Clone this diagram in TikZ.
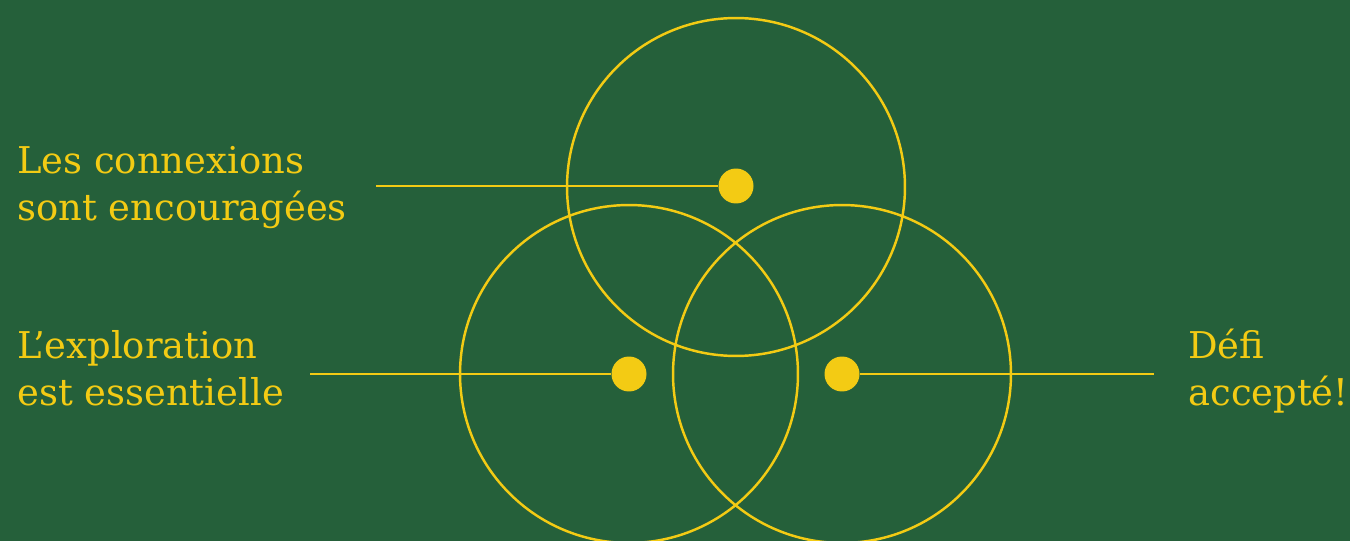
\documentclass[tikz,border=0pt]{standalone}
\usepackage{fontspec}
\setmainfont{DejaVu Serif}
\usetikzlibrary{positioning}
\definecolor{bggreen}{HTML}{25603A}
\definecolor{ideayellow}{HTML}{F3CB14}

\begin{document}
\begin{tikzpicture}[x=0.02cm, y=-0.02cm,
    ring/.style={draw=ideayellow, line width=1.4pt},
    lead/.style={draw=ideayellow, line width=1.4pt},
    dot/.style={circle, fill=ideayellow, inner sep=0pt, minimum size=0.7cm},
    slogan/.style={text=ideayellow, anchor=base west, align=left,
        font=\fontsize{21}{26.7}\selectfont, inner sep=0pt}]
    % Background
    \fill[bggreen] (0,0) rectangle (1350,541);
    \useasboundingbox (0,0) rectangle (1350,541);
    \clip (0,0) rectangle (1350,541);

    % Circles
    \draw[ring] (736,187) circle (3.38cm);
    \draw[ring] (629,374) circle (3.38cm);
    \draw[ring] (842,374) circle (3.38cm);

    % Dots
    \node[dot] (topdot) at (736,186) {};
    \node[dot] (leftdot) at (629,374) {};
    \node[dot] (rightdot) at (842,374) {};

    % Texts (anchored at the last line)
    \node[slogan] (toptext) at (17,220) {Les connexions\\sont encouragées};
    \node[slogan] (lefttext) at (17,405) {L’exploration\\est essentielle};
    \node[slogan] (righttext) at (1188,405) {Défi\\accepté!};

    % Lines
    \coordinate (topend) at (376,186);
    \coordinate (leftend) at (310,374);
    \coordinate (rightend) at (1154,374);
    \draw[lead] (topend) -- (topdot);
    \draw[lead] (leftend) -- (leftdot);
    \draw[lead] (rightdot) -- (rightend);
\end{tikzpicture}
\end{document}
